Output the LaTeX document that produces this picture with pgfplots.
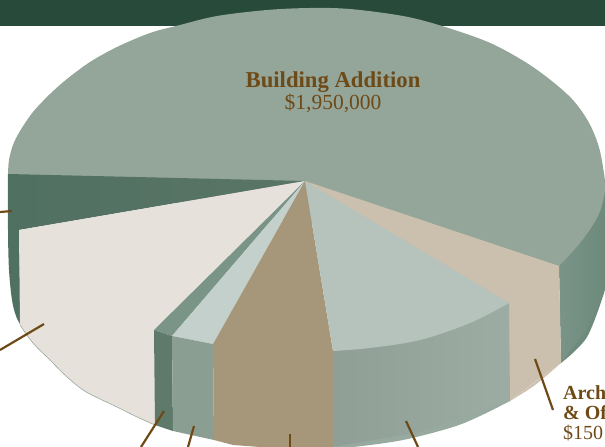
\documentclass[border=0pt]{standalone}
\usepackage{fontspec}
\setmainfont{Liberation Serif}
\usepackage{pgfplots}
\pgfplotsset{compat=1.18}

\definecolor{barc}{HTML}{274A3A}
\definecolor{mainc}{HTML}{94A599}
\definecolor{rwall}{HTML}{7A9488}
\definecolor{rwalld}{HTML}{6D8A7C}
\definecolor{dwedge}{HTML}{5A7565}
\definecolor{dwedged}{HTML}{507062}
\definecolor{whitec}{HTML}{E6E1DA}
\definecolor{gwedge}{HTML}{7A9488}
\definecolor{gwall}{HTML}{5F7A6B}
\definecolor{ltop}{HTML}{C3D0CC}
\definecolor{lwall}{HTML}{8A9E92}
\definecolor{tanc}{HTML}{A7977A}
\definecolor{btop}{HTML}{B5C3BC}
\definecolor{bwall}{HTML}{98A9A0}
\definecolor{beigec}{HTML}{CBBFAE}
\definecolor{brownc}{HTML}{6E4A17}

\tikzset{
    slice/.style={draw=none, fill=#1, line join=round},
    arc/.style={draw=none, fill=#1, smooth, tension=0.55},
    leader/.style={color=brownc, line width=2.2pt, line cap=butt},
}

\begin{document}
\begin{tikzpicture}
    \begin{axis}[
        scale only axis, width=605pt, height=447pt,
        xmin=0, xmax=605, ymin=0, ymax=447, y dir=reverse,
        hide axis, no markers,
    ]
        % header band
        \addplot[slice=barc] coordinates {(0,0) (605,0) (605,26) (0,26)} -- cycle;

        % right wall
        \addplot[arc=rwalld] coordinates {
            (605,290) (587,337) (561,363)
        } -- cycle;
        \addplot[draw=none, left color=rwall, right color=rwalld] coordinates {
            (559,266) (605,190) (605,290) (585,332) (561,363)
        } -- cycle;

        % Building Addition, top face: arc and its chord, later slices cover the chord
        \addplot[arc=mainc] coordinates {
            (8,174) (9,160) (13,145) (20,131) (33,112) (50,94) (67,79) (90,62)
            (117,47) (150,33) (180,25) (217,16) (267,10) (310,8) (350,9) (403,16)
            (442,26) (488,42) (522,60) (548,78) (572,99) (588,121) (598,144)
            (603,167) (605,190) (598,216) (580,243) (559,266)
        } -- cycle;
        \addplot[slice=mainc] coordinates {(8,174) (305,181) (559,266)} -- cycle;

        % left wall behind the white slice
        \addplot[arc=dwedged] coordinates {
            (8,174) (8,230) (9,270) (12,300) (16,316) (21,326)
        } -- cycle;
        \addplot[draw=none, left color=dwedged, right color=dwedge] coordinates {
            (8,174) (305,181) (19,230) (21,326) (13,270)
        } -- cycle;

        % white slice
        \addplot[arc=whitec] coordinates {
            (20,325) (33,343) (50,360) (66,376) (83,390) (100,399) (117,407)
            (135,416) (155,425)
        } -- cycle;
        \addplot[slice=whitec] coordinates {
            (305,181) (19,230) (20,325) (83,385) (155,425) (155,330)
        } -- cycle;
        \addplot[color=bwall, line width=0.6pt, smooth, tension=0.55] coordinates {
            (20,325) (33,343) (50,360) (66,376) (83,390) (100,399) (117,407)
            (135,416) (155,425)
        };

        % narrow dark slice
        \addplot[slice=gwedge] coordinates {(305,181) (154,330) (172,336)} -- cycle;
        \addplot[slice=gwall] coordinates {(154,330) (172,336) (173,431) (155,425)} -- cycle;

        % narrow light slice
        \addplot[slice=ltop] coordinates {(305,181) (172,336) (213,344)} -- cycle;
        \addplot[slice=lwall] coordinates {(172,336) (213,344) (214,440) (173,431)} -- cycle;

        % tan slice
        \addplot[slice=tanc] coordinates {
            (305,181) (213,344) (214,440) (233,445) (260,447) (333,447) (333,351)
        } -- cycle;

        % beige slice, runs under the blue-grey one
        \addplot[arc=beigec] coordinates {(561,363) (535,385) (510,401)} -- cycle;
        \addplot[slice=beigec] coordinates {
            (305,181) (559,266) (561,363) (535,382) (510,401) (480,320)
        } -- cycle;

        % blue-grey slice
        \addplot[arc=bwall] coordinates {
            (510,401) (480,416) (453,427) (403,440) (353,447) (333,447)
        } -- cycle;
        \addplot[draw=none, left color=bwall!94!black, right color=bwall!96!white] coordinates {
            (333,351) (420,330) (509,303) (510,401) (420,432) (333,447)
        } -- cycle;
        \addplot[arc=btop] coordinates {
            (509,303) (470,323) (420,340) (370,348) (333,351)
        } -- cycle;
        \addplot[slice=btop] coordinates {(305,181) (509,303) (420,335) (333,351)} -- cycle;

        % leader lines
        \addplot[leader] coordinates {(0,212) (12,211)};
        \addplot[leader] coordinates {(44,324) (0,350)};
        \addplot[leader] coordinates {(164,411) (141,447)};
        \addplot[leader] coordinates {(194,426) (188,447)};
        \addplot[leader] coordinates {(290,434) (290,447)};
        \addplot[leader] coordinates {(406,421) (418,447)};
        \addplot[leader] coordinates {(535,359) (553,410)};

        % labels
        \node[text=brownc, align=center, inner sep=0pt]
            at (axis cs:333,92) {\fontsize{22.7}{20}\selectfont\textbf{Building Addition}\\
                \fontsize{21.5}{20}\selectfont\$1,950,000};
        \node[text=brownc, align=left, anchor=north west, inner sep=0pt, overlay,
                font=\fontsize{20}{20}\selectfont]
            at (axis cs:563,385) {\textbf{Arch}\\\textbf{\& Of}\\\$150};
    \end{axis}
\end{tikzpicture}
\end{document}
